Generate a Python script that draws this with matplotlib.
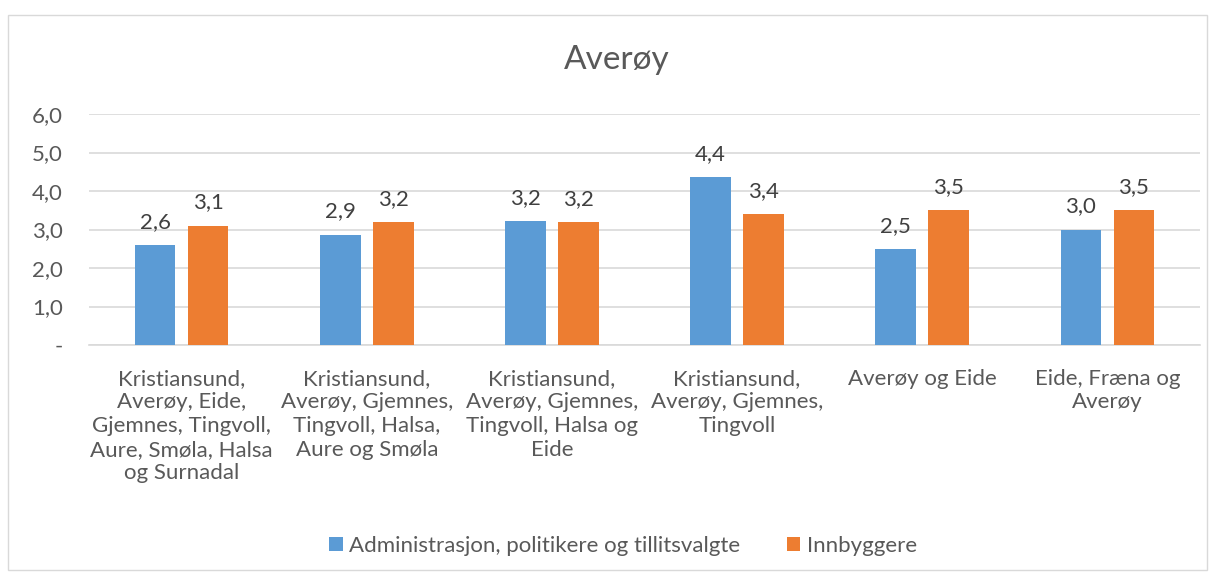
import matplotlib
matplotlib.use('Agg')
import matplotlib.pyplot as plt
from matplotlib.patches import Rectangle
import numpy as np

# --- Data ---
categories = [
    "Kristiansund,\nAverøy, Eide,\nGjemnes, Tingvoll,\nAure, Smøla, Halsa\nog Surnadal",
    "Kristiansund,\nAverøy, Gjemnes,\nTingvoll, Halsa,\nAure og Smøla",
    "Kristiansund,\nAverøy, Gjemnes,\nTingvoll, Halsa og\nEide",
    "Kristiansund,\nAverøy, Gjemnes,\nTingvoll",
    "Averøy og Eide",
    "Eide, Fræna og\nAverøy",
]
admin = [2.6, 2.87, 3.22, 4.37, 2.5, 3.0]
innbyggere = [3.1, 3.2, 3.2, 3.4, 3.5, 3.5]
series_names = ["Administrasjon, politikere og tillitsvalgte", "Innbyggere"]
yticks = [0, 1, 2, 3, 4, 5, 6]

BLUE = '#5b9bd5'
ORANGE = '#ed7d31'
TEXT = '#595959'

plt.rcParams['font.family'] = ['Lato', 'DejaVu Sans']

fig = plt.figure(figsize=(12.15, 5.77), dpi=100)
# outer chart border
fig.patches.append(Rectangle((8 / 1215, 1 - 570 / 577), 1199 / 1215, 555 / 577,
                             transform=fig.transFigure, fill=False,
                             edgecolor='#d9d9d9', linewidth=1))

ax = fig.add_axes([89 / 1215, 1 - 345 / 577, 1111 / 1215, 231 / 577])
x = np.arange(len(categories))
w = 0.22
off = 0.143
b1 = ax.bar(x - off, admin, w, color=BLUE, label=series_names[0], zorder=3)
b2 = ax.bar(x + off, innbyggere, w, color=ORANGE, label=series_names[1], zorder=3)

for bars, vals in ((b1, admin), (b2, innbyggere)):
    for rect, v in zip(bars, vals):
        ax.text(rect.get_x() + rect.get_width() / 2, v + 0.34,
                f"{v:.1f}".replace('.', ','), ha='center', va='bottom',
                fontsize=16, color='#404040')

ax.set_xlim(-0.5, len(categories) - 0.5)
ax.set_ylim(0, 6)
ax.set_yticks(yticks)
ax.set_yticklabels(['-'] + [f"{t:.1f}".replace('.', ',') for t in yticks[1:]],
                   fontsize=16, color=TEXT)
ax.set_xticks(x)
ax.set_xticklabels(categories, fontsize=16, color=TEXT, linespacing=1.23, va='top')
ax.tick_params(axis='both', length=0)
ax.tick_params(axis='x', pad=17)
ax.tick_params(axis='y', pad=19)
ax.grid(axis='y', color='#d9d9d9', linewidth=1.2, zorder=0)
for s in ('top', 'right', 'left'):
    ax.spines[s].set_visible(False)
ax.spines['bottom'].set_color('#d9d9d9')
ax.spines['bottom'].set_linewidth(1.2)
ax.set_axisbelow(True)

fig.text(0.508, 1 - 60 / 577, "Averøy", ha='center', va='center', fontsize=24, color=TEXT)

fig.legend(handles=[b1, b2], loc='center', bbox_to_anchor=(0.513, 1 - 546 / 577),
           ncol=2, frameon=False, fontsize=16, labelcolor=TEXT,
           handlelength=0.6, handleheight=0.6, handletextpad=0.3, columnspacing=2.1)

fig.savefig('out.png', dpi=100)
